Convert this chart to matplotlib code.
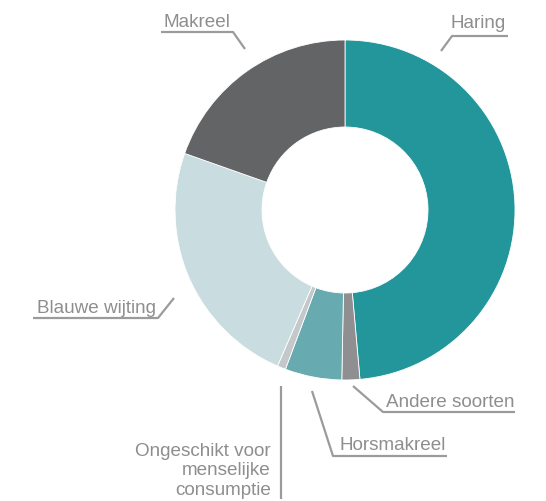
import matplotlib
matplotlib.use("Agg")
import matplotlib.pyplot as plt

categories = ["Haring", "Andere soorten", "Horsmakreel",
              "Ongeschikt voor\nmenselijke\nconsumptie", "Blauwe wijting", "Makreel"]
values = [48.6, 1.7, 5.4, 0.8, 23.9, 19.6]
colors = ["#23969B", "#8F8F92", "#67ABB0", "#C4C8CA", "#C9DCDF", "#636466"]

W, H = 546, 502
fig = plt.figure(figsize=(W / 100, H / 100), dpi=100)
ax = fig.add_axes([0, 0, 1, 1])
ax.set_axis_off()

cx, cy, R, r = 345, H - 211, 170, 83
ax.pie(values, colors=colors, startangle=90, counterclock=False,
       center=(cx, cy), radius=R,
       wedgeprops=dict(width=R - r, edgecolor="white", linewidth=0.6))
ax.set_xlim(0, W)
ax.set_ylim(0, H)
ax.set_aspect("equal")

txt_color = "#8E8E8E"
line_color = "#9B9B9B"
fs = 13.6
font = "Liberation Sans"

def leader(pts):
    xs = [p[0] for p in pts]
    ys = [H - p[1] for p in pts]
    ax.plot(xs, ys, color=line_color, lw=1.6, solid_capstyle="butt", zorder=5)

def label(text, x, y_base, ha):
    ax.text(x, H - y_base, text, ha=ha, va="baseline", fontsize=fs,
            color=txt_color, family=font, linespacing=1.2)

# Haring
leader([(441, 52), (452, 37), (508, 37)])
label(categories[0], 506, 28, "right")
# Andere soorten
leader([(353, 387), (383, 413), (515, 413)])
label(categories[1], 514, 407, "right")
# Horsmakreel
leader([(312, 392), (333, 457), (447, 457)])
label(categories[2], 446, 450, "right")
# Ongeschikt
leader([(281, 387), (281, 500)])
label(categories[3], 271, 495, "right")
# Blauwe wijting
leader([(174, 299), (158, 319), (33, 319)])
label(categories[4], 156, 313, "right")
# Makreel
leader([(245, 50), (233, 33), (161, 33)])
label(categories[5], 163, 27, "left")

fig.savefig("out.png", dpi=100)
